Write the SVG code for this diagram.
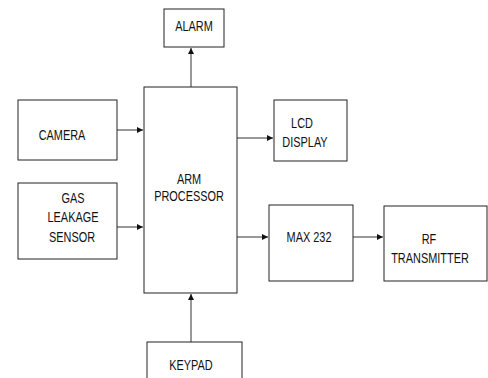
<svg xmlns="http://www.w3.org/2000/svg" width="488" height="378" viewBox="0 0 488 378">
<style>
.box{fill:#fff;stroke:#222;stroke-width:1}
.t{font-family:"Liberation Sans",Arial,sans-serif;font-size:14px;fill:#111;text-anchor:middle}
.c{stroke:#333;stroke-width:1;fill:none;marker-end:url(#ah)}
</style>
<defs>
<marker id="ah" markerWidth="7" markerHeight="7" refX="6" refY="3.5" orient="auto" markerUnits="userSpaceOnUse">
<path d="M0,0.5 L6,3.5 L0,6.5 z" fill="#111"/>
</marker>
</defs>
<rect width="488" height="378" fill="#fff"/>
<g id="connectors">
<line class="c" x1="191" y1="87" x2="191" y2="48"/>
<line class="c" x1="117" y1="130" x2="143" y2="130"/>
<line class="c" x1="117" y1="227" x2="143" y2="227"/>
<line class="c" x1="237" y1="138" x2="273" y2="138"/>
<line class="c" x1="237" y1="237" x2="268" y2="237"/>
<line class="c" x1="353" y1="237" x2="383" y2="237"/>
<line class="c" x1="191" y1="342" x2="191" y2="294"/>
</g>
<g id="processor">
<rect class="box" x="144" y="87" width="93" height="206"/>
<text class="t" transform="translate(189,184) scale(0.78,1)">ARM</text>
<text class="t" transform="translate(189,201) scale(0.78,1)">PROCESSOR</text>
</g>
<g id="alarm">
<rect class="box" x="164" y="9" width="60" height="38"/>
<text class="t" transform="translate(194,31) scale(0.78,1)">ALARM</text>
</g>
<g id="camera">
<rect class="box" x="18" y="100" width="99" height="60"/>
<text class="t" transform="translate(62,140) scale(0.78,1)">CAMERA</text>
</g>
<g id="gas">
<rect class="box" x="18" y="183" width="99" height="76"/>
<text class="t" transform="translate(73,203) scale(0.78,1)">GAS</text>
<text class="t" transform="translate(73,222) scale(0.78,1)">LEAKAGE</text>
<text class="t" transform="translate(72,242) scale(0.78,1)">SENSOR</text>
</g>
<g id="lcd">
<rect class="box" x="274" y="100" width="73" height="61"/>
<text class="t" transform="translate(302,128) scale(0.78,1)">LCD</text>
<text class="t" transform="translate(305,147) scale(0.78,1)">DISPLAY</text>
</g>
<g id="max232">
<rect class="box" x="269" y="205" width="84" height="76"/>
<text class="t" transform="translate(309,242) scale(0.78,1)">MAX 232</text>
</g>
<g id="rf">
<rect class="box" x="384" y="206" width="103" height="75"/>
<text class="t" transform="translate(429,244) scale(0.78,1)">RF</text>
<text class="t" transform="translate(430,263) scale(0.78,1)">TRANSMITTER</text>
</g>
<g id="keypad">
<rect class="box" x="147" y="342" width="95" height="50"/>
<text class="t" transform="translate(191,370) scale(0.78,1)">KEYPAD</text>
</g>
</svg>
